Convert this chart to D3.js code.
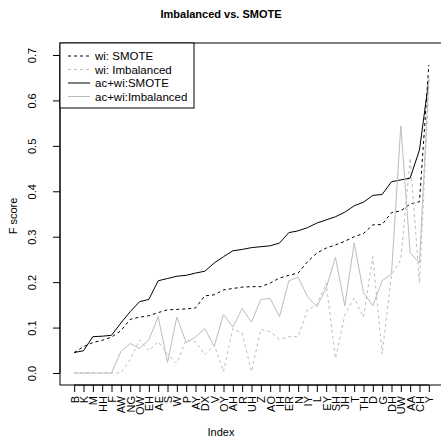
<!DOCTYPE html>
<html>
<head>
<meta charset="utf-8">
<script src="https://cdn.jsdelivr.net/npm/d3@7"></script>
<style>
  body { margin: 0; background: #fff; }
  svg { display: block; font-family: "Liberation Sans", Arial, sans-serif; }
</style>
</head>
<body>
<div id="chart"></div>
<script>
// phoneme categories along the x axis
const phonemes = ["B","K","M","HH","F","AW","NG","OW","EH","AE","S","W","P","AY","DX","V","OY","AH","R","UH",
  "Z","AO","IH","ER","N","IY","L","EY","SH","JH","T","TH","D","G","DH","UW","AA","CH","Y"];

const wiSmote = [0.045,0.058,0.067,0.072,0.079,0.093,0.118,0.123,0.126,0.133,0.139,0.140,0.141,0.143,0.170,0.172,0.183,0.186,0.189,0.190,
  0.190,0.198,0.209,0.215,0.220,0.245,0.264,0.275,0.282,0.290,0.300,0.307,0.326,0.327,0.353,0.357,0.372,0.377,0.678];

const wiImb = [0,0,0,0,0,0,0.030,0.073,0.049,0.069,0.042,0.021,0.073,0.069,0.040,0.062,0.003,0.098,0.087,0.003,
  0.096,0.091,0.074,0.080,0.080,0.139,0.150,0.198,0.032,0.128,0.165,0.123,0.256,0.042,0.216,0.250,0.473,0.198,0.630];

const acwiSmote = [0.045,0.049,0.080,0.081,0.083,0.110,0.135,0.157,0.162,0.203,0.208,0.213,0.215,0.220,0.224,0.242,0.256,0.269,0.272,0.276,
  0.278,0.280,0.286,0.309,0.313,0.320,0.330,0.337,0.344,0.354,0.368,0.376,0.391,0.393,0.421,0.425,0.429,0.491,0.645];

const acwiImb = [0,0,0,0,0,0.047,0.065,0.054,0.073,0.124,0.023,0.123,0.067,0.079,0.098,0.058,0.129,0.101,0.142,0.112,
  0.162,0.164,0.124,0.203,0.211,0.168,0.146,0.187,0.255,0.148,0.286,0.177,0.148,0.203,0.218,0.544,0.265,0.242,0.650];

const yTicks = [0, 0.1, 0.2, 0.3, 0.4, 0.5, 0.6, 0.7];

const width = 441, height = 439;
const box = { left: 60, top: 43, right: 443, bottom: 385 };
const lightGrey = "#bdbdbd";

const series = [
  { name: "wi: SMOTE", values: wiSmote, color: "#000", dash: "3,3" },
  { name: "wi: Imbalanced", values: wiImb, color: lightGrey, dash: "3,3" },
  { name: "ac+wi:SMOTE", values: acwiSmote, color: "#000", dash: null },
  { name: "ac+wi:Imbalanced", values: acwiImb, color: lightGrey, dash: null }
];

const svg = d3.select("#chart")
  .append("svg")
  .attr("width", width)
  .attr("height", height);

const x = d3.scalePoint()
  .domain(phonemes)
  .range([box.left, box.right])
  .padding(1.52);

const y = d3.scaleLinear()
  .domain([0, 0.7])
  .range([373, 55]);

// lines
const line = d3.line()
  .x((d, i) => x(phonemes[i]))
  .y(d => y(d));

series.forEach(s => {
  svg.append("path")
    .datum(s.values)
    .attr("fill", "none")
    .attr("stroke", s.color)
    .attr("stroke-width", 1)
    .attr("stroke-dasharray", s.dash)
    .attr("d", line);
});

// frame
svg.append("rect")
  .attr("x", box.left)
  .attr("y", box.top)
  .attr("width", box.right - box.left)
  .attr("height", box.bottom - box.top)
  .attr("fill", "none")
  .attr("stroke", "#000");

// x axis
const xAxis = svg.append("g")
  .attr("transform", `translate(0,${box.bottom})`)
  .call(d3.axisBottom(x).tickSize(7).tickSizeOuter(0));
xAxis.select(".domain").attr("d", `M${x(phonemes[0])},0H${x(phonemes[phonemes.length - 1])}`);
xAxis.selectAll("text")
  .attr("transform", "rotate(-90)")
  .attr("x", -11)
  .attr("y", 0)
  .attr("dy", "0.36em")
  .style("text-anchor", "end")
  .style("font-size", "11px")
  .style("font-family", "Liberation Sans, Arial, sans-serif")
  .attr("fill", "#000");

// y axis
const yAxis = svg.append("g")
  .attr("transform", `translate(${box.left},0)`)
  .call(d3.axisLeft(y).tickValues(yTicks).tickFormat(d3.format(".1f")).tickSize(7).tickSizeOuter(0));
yAxis.select(".domain").attr("d", `M0,${y(0)}V${y(0.7)}`);
yAxis.selectAll("text")
  .attr("transform", "rotate(-90)")
  .attr("x", 0)
  .attr("y", -24.5)
  .attr("dy", 0)
  .style("text-anchor", "middle")
  .style("font-size", "11px")
  .style("font-family", "Liberation Sans, Arial, sans-serif")
  .attr("fill", "#000");

// titles
svg.append("text")
  .attr("x", 221)
  .attr("y", 18)
  .attr("text-anchor", "middle")
  .style("font-size", "11px")
  .style("font-weight", "bold")
  .text("Imbalanced vs. SMOTE");

svg.append("text")
  .attr("x", 221)
  .attr("y", 436)
  .attr("text-anchor", "middle")
  .style("font-size", "11px")
  .text("Index");

svg.append("text")
  .attr("transform", "translate(17,216) rotate(-90)")
  .attr("text-anchor", "middle")
  .style("font-size", "11px")
  .text("F score");

// legend
const legend = svg.append("g");
legend.append("rect")
  .attr("x", box.left)
  .attr("y", box.top)
  .attr("width", 134)
  .attr("height", 65)
  .attr("fill", "#fff")
  .attr("stroke", "#000");

series.forEach((s, i) => {
  const ly = 56 + i * 13.5;
  legend.append("line")
    .attr("x1", 68).attr("x2", 90)
    .attr("y1", ly).attr("y2", ly)
    .attr("stroke", s.color)
    .attr("stroke-dasharray", s.dash);
  legend.append("text")
    .attr("x", 95)
    .attr("y", ly + 4)
    .style("font-size", "11.5px")
    .text(s.name);
});
</script>
</body>
</html>
